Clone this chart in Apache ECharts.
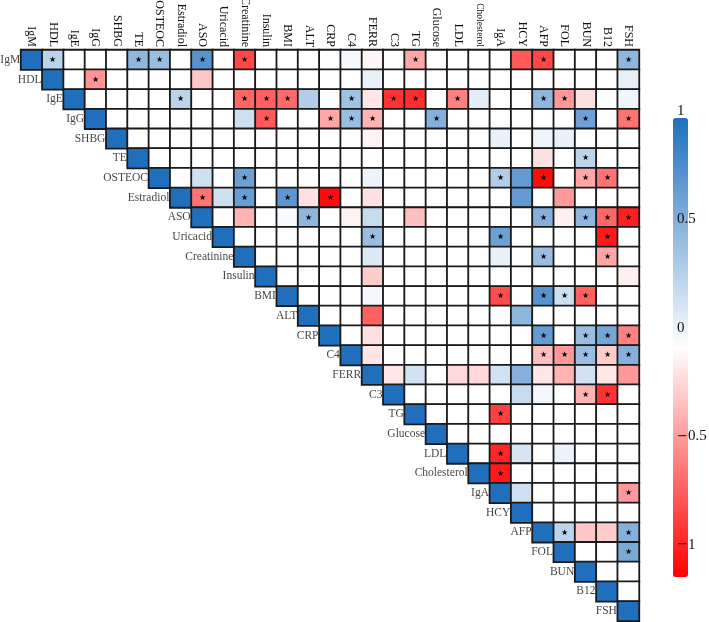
<!DOCTYPE html>
<html>
<head>
<meta charset="utf-8">
<title>Correlation heatmap</title>
<script src="https://cdn.jsdelivr.net/npm/echarts@6/dist/echarts.min.js"></script>
<style>
  html, body { margin: 0; padding: 0; background: #fff; }
  #chart { width: 709px; height: 622px; }
</style>
</head>
<body>
<div id="chart"></div>
<script>
// variables, same order on both axes
const labels = ['IgM', 'HDL', 'IgE', 'IgG', 'SHBG', 'TE', 'OSTEOC', 'Estradiol', 'ASO', 'Uricacid',
  'Creatinine', 'Insulin', 'BMI', 'ALT', 'CRP', 'C4', 'FERR', 'C3', 'TG', 'Glucose', 'LDL',
  'Cholesterol', 'IgA', 'HCY', 'AFP', 'FOL', 'BUN', 'B12', 'FSH'];

// upper triangle, each row starts at its own diagonal cell
const rowIgM = [1, 0.3, 0, 0, 0, 0.5, 0.45, 0, 0.75, 0, -0.72, 0, 0, 0, 0, 0.04, -0.03, 0, -0.35, 0, 0, 0, 0, -0.65, -0.72, 0, 0, 0, 0.5];
const rowHDL = [1, 0, -0.42, 0, 0, 0, 0, -0.22, 0, 0, 0, 0, 0, 0, 0, 0.1, 0, 0, 0, 0, 0, 0, 0, 0, 0, 0, 0, 0.1];
const rowIgE = [1, 0, 0, 0, 0, 0.3, 0, 0, -0.6, -0.62, -0.58, 0.35, 0, 0.42, -0.1, -0.8, -0.82, 0, -0.5, 0.12, 0, 0, 0.5, -0.4, -0.12, 0, 0.07];
const rowIgG = [1, 0, 0, 0, 0, 0, 0, 0.22, -0.65, 0, 0, -0.35, 0.45, -0.3, 0, 0, 0.55, 0, 0, 0, 0, 0, 0, 0.65, 0, -0.55];
const rowSHBG = [1, 0, 0, 0, 0, 0, 0, 0, 0, 0, 0, 0, -0.05, 0, 0, 0, 0, 0, 0.1, 0, 0.07, 0.1, 0, 0, 0];
const rowTE = [1, 0, 0, 0, 0, 0, 0, 0, 0, 0, 0, 0, 0, 0, 0, 0, 0, 0, 0, -0.12, 0, 0.3, 0, 0];
const rowOSTEOC = [1, 0, 0.22, 0, 0.65, 0, 0, 0, 0, 0, 0.08, 0, 0, 0, 0, 0, 0.35, 0.7, -0.95, 0, -0.35, -0.55, 0];
const rowEstradiol = [1, -0.55, 0.22, 0.68, 0, 0.72, -0.12, -0.95, 0, -0.12, 0, 0, 0, 0, 0, 0, 0.7, 0, -0.4, 0, 0, 0];
const rowASO = [1, 0, -0.3, 0, 0.03, 0.5, 0, -0.05, 0.25, 0, -0.25, 0, 0, 0, 0, 0, 0.55, -0.06, 0.5, -0.6, -0.88];
const rowUricacid = [1, 0, 0, 0, 0, 0, 0, 0.45, 0, 0, 0, 0, 0, 0.65, 0, 0, 0, 0, -0.9, 0];
const rowCreatinine = [1, 0, 0, 0, 0, 0, 0.15, 0, 0, 0, 0, 0, 0.1, 0, 0.45, 0, 0, -0.35, 0];
const rowInsulin = [1, 0, 0, 0, 0, -0.2, 0, 0, 0, 0, 0, 0, 0, 0, 0, 0, 0, -0.06];
const rowBMI = [1, 0, 0, 0, 0.05, 0, 0, 0, 0, 0, -0.7, 0, 0.75, 0.22, -0.62, 0, 0];
const rowALT = [1, 0, 0, -0.62, 0, 0, 0, 0, 0, 0, 0.5, 0, 0, 0, 0, 0];
const rowCRP = [1, 0, -0.12, 0, 0, 0, 0, 0, 0, 0, 0.7, 0, 0.45, 0.62, -0.5];
const rowC4 = [1, -0.1, 0, 0, 0, 0, 0, 0, 0, -0.25, -0.4, 0.45, -0.2, 0.55];
const rowFERR = [1, -0.1, 0.2, 0, -0.15, -0.15, 0.2, 0.55, -0.1, -0.3, 0.2, -0.1, -0.4];
const rowC3 = [1, 0, 0, 0, 0, 0, 0.25, 0.05, 0, -0.3, -0.8, 0];
const rowTG = [1, 0, 0, 0, -0.75, 0, 0, 0, 0, 0, 0];
const rowGlucose = [1, 0, 0, 0, 0, 0, 0, 0, 0, 0];
const rowLDL = [1, 0, -0.85, 0.18, 0, 0.08, 0, 0, 0];
const rowCholesterol = [1, -0.9, 0, 0, 0, 0, 0, 0];
const rowIgA = [1, 0.22, 0, 0, 0, 0, -0.4];
const rowHCY = [1, 0, 0, 0, 0, 0];
const rowAFP = [1, 0.3, -0.22, -0.2, 0.55];
const rowFOL = [1, 0, 0, 0.6];
const rowBUN = [1, 0, 0];
const rowB12 = [1, 0];
const rowFSH = [1];

// cells marked with a star (significant), row -> columns
const starCells = [
  ['IgM', ['HDL', 'TE', 'OSTEOC', 'ASO', 'Creatinine', 'TG', 'AFP', 'FSH']],
  ['HDL', ['IgG']],
  ['IgE', ['Estradiol', 'Creatinine', 'Insulin', 'BMI', 'C4', 'C3', 'TG', 'LDL', 'AFP', 'FOL']],
  ['IgG', ['Insulin', 'CRP', 'C4', 'FERR', 'Glucose', 'BUN', 'FSH']],
  ['TE', ['BUN']],
  ['OSTEOC', ['Creatinine', 'IgA', 'AFP', 'BUN', 'B12']],
  ['Estradiol', ['ASO', 'Creatinine', 'BMI', 'CRP']],
  ['ASO', ['ALT', 'AFP', 'BUN', 'B12', 'FSH']],
  ['Uricacid', ['FERR', 'IgA', 'B12']],
  ['Creatinine', ['AFP', 'B12']],
  ['BMI', ['IgA', 'AFP', 'FOL', 'BUN']],
  ['CRP', ['AFP', 'BUN', 'B12', 'FSH']],
  ['C4', ['AFP', 'FOL', 'BUN', 'B12', 'FSH']],
  ['C3', ['BUN', 'B12']],
  ['TG', ['IgA']],
  ['LDL', ['IgA']],
  ['Cholesterol', ['IgA']],
  ['IgA', ['FSH']],
  ['AFP', ['FOL', 'FSH']],
  ['FOL', ['FSH']]
];

// colorbar ticks
const barTicks = [-1, -0.5, 0, 0.5, 1];

const upperRows = [rowIgM, rowHDL, rowIgE, rowIgG, rowSHBG, rowTE, rowOSTEOC, rowEstradiol, rowASO,
  rowUricacid, rowCreatinine, rowInsulin, rowBMI, rowALT, rowCRP, rowC4, rowFERR, rowC3, rowTG,
  rowGlucose, rowLDL, rowCholesterol, rowIgA, rowHCY, rowAFP, rowFOL, rowBUN, rowB12, rowFSH];

const starSet = new Set();
starCells.forEach(([r, cols]) => cols.forEach(c => starSet.add(r + '|' + c)));

const heatData = [];
upperRows.forEach((vals, r) => {
  vals.forEach((v, k) => {
    const c = r + k;
    heatData.push([c, r, v, starSet.has(labels[r] + '|' + labels[c]) ? 1 : 0]);
  });
});

const serif = "'Liberation Serif', 'Times New Roman', serif";

const chart = echarts.init(document.getElementById('chart'));
chart.setOption({
  animation: false,
  grid: [
    { left: 21, top: 50, width: 618, height: 571, outerBoundsMode: 'none', containLabel: false },
    // colorbar tick axis
    { left: 658, top: 111, width: 15, height: 434, outerBoundsMode: 'none', containLabel: false }
  ],
  xAxis: [
    {
      type: 'category',
      data: labels.map(n => n === 'Cholesterol' ? { value: n, textStyle: { fontSize: 9.5 } } : n),
      position: 'top',
      axisLine: { show: false },
      axisTick: { show: false },
      splitLine: { show: false },
      axisLabel: {
        interval: 0,
        rotate: 90,
        margin: 3,
        color: '#111',
        fontFamily: serif,
        fontSize: 12
      }
    },
    { type: 'value', gridIndex: 1, show: false }
  ],
  yAxis: [
    {
      type: 'category',
      data: labels,
      inverse: true,
      show: false
    },
    {
      type: 'value',
      gridIndex: 1,
      min: -1,
      max: 1,
      interval: 0.5,
      position: 'right',
      z: 10,
      axisLine: { show: false },
      axisTick: { show: false },
      splitLine: { show: false },
      axisLabel: {
        margin: 4,
        hideOverlap: false,
        color: '#111',
        fontFamily: serif,
        fontSize: 15,
        // minus sign drawn in DejaVu, the digits stay in the serif face
        formatter: v => {
          if (!barTicks.includes(v)) return '';
          return v < 0 ? '{m|\u2212}' + String(-v) : String(v);
        },
        rich: {
          m: { fontFamily: "'DejaVu Serif', serif", fontSize: 13, color: '#111' }
        }
      }
    }
  ],
  visualMap: {
    type: 'continuous',
    seriesIndex: 0,
    dimension: 2,
    min: -1,
    max: 1,
    calculable: false,
    z: 1,
    left: 658,
    top: 103,
    itemWidth: 15,
    itemHeight: 459,
    text: null,
    inRange: { color: ['#ff0000', '#ffffff', '#1f6fbd'] }
  },
  series: [
    {
      type: 'heatmap',
      data: heatData,
      itemStyle: { borderColor: '#1a1a1a', borderWidth: 1.8 },
      label: {
        show: true,
        formatter: p => p.data[3] ? '\u2605' : '',
        color: '#000',
        fontSize: 8
      },
      emphasis: { disabled: true },
      silent: true
    },
    {
      // row names sit just left of each diagonal cell
      type: 'scatter',
      data: labels.map((n, i) => [i, i, n]),
      symbol: 'rect',
      symbolSize: [21, 19],
      itemStyle: { color: 'rgba(0,0,0,0)' },
      label: {
        show: true,
        position: 'left',
        distance: 1,
        formatter: p => p.data[2],
        color: '#111',
        fontFamily: serif,
        fontSize: 11.5
      },
      silent: true
    }
  ]
});
</script>
</body>
</html>
